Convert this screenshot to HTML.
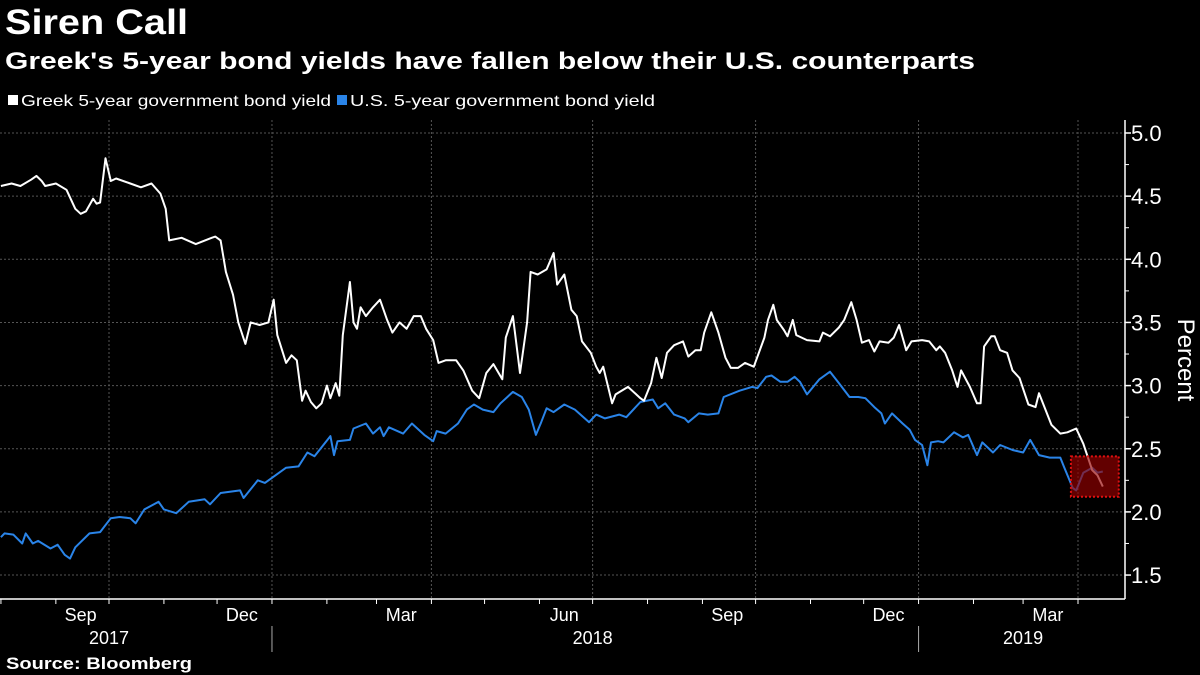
<!DOCTYPE html>
<html><head><meta charset="utf-8"><style>
html,body{margin:0;padding:0;background:#000;}
body{width:1200px;height:675px;overflow:hidden;position:relative;font-family:"Liberation Sans",sans-serif;color:#fff;}
</style></head><body>
<svg id="chart" width="1200" height="675" viewBox="0 0 1200 675" xmlns="http://www.w3.org/2000/svg" style="position:absolute;left:0;top:0">
<text x="5" y="34" font-size="35" font-weight="bold" fill="#fff" font-family="Liberation Sans, sans-serif" textLength="183" lengthAdjust="spacingAndGlyphs">Siren Call</text>
<text x="5" y="69" font-size="24" font-weight="bold" fill="#fff" font-family="Liberation Sans, sans-serif" textLength="970" lengthAdjust="spacingAndGlyphs">Greek's 5-year bond yields have fallen below their U.S. counterparts</text>
<g font-size="16" font-family="Liberation Sans, sans-serif" fill="#fff">
<g><rect x="8" y="95" width="10" height="10" fill="#fff"/><text x="21" y="106" textLength="310" lengthAdjust="spacingAndGlyphs">Greek 5-year government bond yield</text></g>
<g><rect x="337" y="95" width="10" height="10" fill="#2a84e8"/><text x="350" y="106" textLength="305" lengthAdjust="spacingAndGlyphs">U.S. 5-year government bond yield</text></g>
</g>
<g id="grid"></g>
<g id="series"></g>
<g id="axes"></g>
<text x="6" y="669" font-size="17" font-weight="bold" fill="#fff" font-family="Liberation Sans, sans-serif" textLength="186" lengthAdjust="spacingAndGlyphs">Source: Bloomberg</text>
</svg>
<script>
const greekDays=[0,6,11,17,20,23,25,31,37,42,45,48,52,54,56,59,62,65,73,79,85,90,93,95,102,110,119,121,124,127,131,134,138,141,146,151,154,156,161,164,167,170,172,175,178,181,184,186,189,191,193,197,199,201,203,206,210,214,218,221,225,229,233,237,240,244,247,251,257,261,266,270,274,278,283,285,289,293,297,299,303,308,312,314,318,322,325,328,333,336,338,340,345,347,354,361,363,367,370,373,376,380,385,388,392,395,397,401,405,409,412,416,420,425,431,433,436,438,442,444,447,449,455,462,464,468,473,476,480,483,486,490,493,496,501,504,507,511,514,520,524,528,530,533,537,540,542,547,551,553,555,559,561,564,568,571,575,580,584,586,593,598,602,607,611,616,619,622];
const greekVals=[4.58,4.60,4.58,4.63,4.66,4.62,4.58,4.60,4.55,4.40,4.36,4.38,4.48,4.44,4.45,4.80,4.62,4.64,4.60,4.57,4.60,4.52,4.40,4.15,4.17,4.12,4.17,4.18,4.15,3.90,3.72,3.50,3.33,3.50,3.48,3.50,3.68,3.40,3.18,3.24,3.20,2.88,2.96,2.87,2.82,2.86,3.00,2.90,3.02,2.92,3.40,3.82,3.50,3.45,3.62,3.55,3.62,3.68,3.52,3.42,3.50,3.45,3.55,3.55,3.45,3.36,3.18,3.20,3.20,3.12,2.96,2.90,3.10,3.17,3.05,3.38,3.55,3.10,3.50,3.90,3.88,3.92,4.05,3.80,3.88,3.60,3.55,3.35,3.26,3.15,3.10,3.15,2.86,2.93,2.99,2.90,2.88,3.02,3.22,3.06,3.26,3.32,3.35,3.23,3.28,3.28,3.42,3.58,3.42,3.22,3.14,3.14,3.18,3.15,3.38,3.52,3.64,3.52,3.44,3.39,3.52,3.40,3.36,3.35,3.42,3.39,3.46,3.52,3.66,3.52,3.34,3.36,3.27,3.35,3.34,3.38,3.48,3.28,3.35,3.36,3.35,3.28,3.31,3.26,3.12,2.99,3.12,2.99,2.86,2.86,3.31,3.39,3.39,3.28,3.26,3.12,3.06,2.85,2.83,2.94,2.69,2.62,2.63,2.66,2.54,2.33,2.29,2.20];
const usDays=[0,2,7,12,14,18,21,28,32,36,39,42,50,56,62,67,73,76,81,89,92,99,106,115,118,124,135,137,145,149,161,168,173,177,186,188,190,197,199,206,210,214,216,219,227,232,239,244,246,251,258,263,267,272,278,282,289,294,298,302,305,308,312,318,324,332,336,341,349,353,361,368,371,375,380,386,388,394,399,405,408,417,424,427,432,435,440,444,448,451,455,462,468,473,479,484,488,493,497,499,503,509,513,516,520,523,525,529,532,538,543,546,551,554,560,564,571,577,581,586,592,598,600,605,607,611,616,619,622];
const usVals=[1.80,1.83,1.82,1.75,1.83,1.75,1.77,1.71,1.74,1.66,1.63,1.72,1.83,1.84,1.95,1.96,1.95,1.91,2.02,2.08,2.02,1.99,2.08,2.10,2.06,2.15,2.17,2.11,2.25,2.23,2.35,2.36,2.47,2.44,2.60,2.45,2.56,2.57,2.66,2.70,2.62,2.67,2.60,2.67,2.62,2.70,2.61,2.56,2.64,2.62,2.70,2.81,2.85,2.81,2.79,2.86,2.95,2.91,2.81,2.61,2.71,2.82,2.79,2.85,2.81,2.71,2.77,2.74,2.77,2.75,2.87,2.89,2.82,2.86,2.77,2.74,2.71,2.78,2.77,2.78,2.91,2.96,2.99,2.98,3.07,3.08,3.03,3.03,3.07,3.03,2.93,3.05,3.11,3.02,2.91,2.91,2.90,2.83,2.78,2.70,2.78,2.70,2.65,2.57,2.53,2.37,2.55,2.56,2.55,2.63,2.59,2.61,2.45,2.55,2.47,2.53,2.49,2.47,2.57,2.45,2.43,2.43,2.36,2.19,2.17,2.31,2.35,2.31,2.32];
const yTicks=[1.5,2.0,2.5,3.0,3.5,4.0,4.5,5.0];
const yTickLabels=["1.5","2.0","2.5","3.0","3.5","4.0","4.5","5.0"];
const monthLabels=["Sep","Dec","Mar","Jun","Sep","Dec","Mar"];
const monthLabelDays=[45,136,226,318,410,501,591];
const quarterDays=[61,153,243,334,426,518,608];
const monthTickDays=[0,31,61,92,122,153,184,212,243,273,304,334,365,396,426,457,487,518,549,577,608];
const yearLabels=["2017","2018","2019"];
const yearLabelDays=[61,334,577];
const yearSepDays=[153,518];
const highlightDays=[604,631];
const highlightVals=[2.12,2.44];

const NS="http://www.w3.org/2000/svg";
const L=0,R=1125,T=120,B=599;
function xs(d){return 109+(d-61)*969/547;}
function ys(v){return 133+(5.0-v)*126.3;}
function mk(tag,attrs,parent){const e=document.createElementNS(NS,tag);for(const k in attrs)e.setAttribute(k,attrs[k]);parent.appendChild(e);return e;}
const grid=document.getElementById('grid'),series=document.getElementById('series'),axes=document.getElementById('axes');
yTicks.forEach((v,i)=>{
  const g=mk('line',{x1:L,x2:R,y1:ys(v),y2:ys(v),stroke:'#555','stroke-width':1,'stroke-dasharray':'2,2'},grid);
  
  
  const t=mk('line',{x1:R,x2:R+6,y1:ys(v),y2:ys(v),stroke:'#fff','stroke-width':1.5},axes);
  
  
  const lb=mk('text',{x:R+6,y:ys(v)+8,'font-size':22,fill:'#fff','font-family':'Liberation Sans, sans-serif'},axes);
  lb.textContent=yTickLabels[i];
  
  
  if(i<yTicks.length-1){const m=mk('line',{x1:R,x2:R+4,y1:ys(v+0.25),y2:ys(v+0.25),stroke:'#fff','stroke-width':1},axes);
  
  }
});
quarterDays.forEach(d=>{
  const g=mk('line',{x1:xs(d),x2:xs(d),y1:T,y2:B,stroke:'#555','stroke-width':1,'stroke-dasharray':'2,2'},grid);
  
  
});
function path(days,vals,color,name){
  let d='';days.forEach((dd,i)=>{d+=(i?'L':'M')+xs(dd).toFixed(1)+','+ys(vals[i]).toFixed(1);});
  const p=mk('path',{d:d,fill:'none',stroke:color,'stroke-width':2,'stroke-linejoin':'round'},series);
  
  
}
path(usDays,usVals,'#2a84e8','us-yield-line');
path(greekDays,greekVals,'#ffffff','greek-yield-line');
const hb=mk('rect',{x:xs(highlightDays[0]),y:ys(highlightVals[1]),width:xs(highlightDays[1])-xs(highlightDays[0]),height:ys(highlightVals[0])-ys(highlightVals[1]),fill:'rgba(150,0,0,0.65)',stroke:'#e01010','stroke-width':2,'stroke-dasharray':'2,2'},series);


const ax=mk('line',{x1:L,x2:R,y1:B,y2:B,stroke:'#fff','stroke-width':1.5},axes);


const ay=mk('line',{x1:R,x2:R,y1:T,y2:B,stroke:'#fff','stroke-width':1.5},axes);


monthTickDays.forEach(d=>{
  const t=mk('line',{x1:xs(d),x2:xs(d),y1:B,y2:B+5,stroke:'#fff','stroke-width':1},axes);
  
  
});
monthLabels.forEach((m,i)=>{
  const t=mk('text',{x:xs(monthLabelDays[i]),y:621,'font-size':18,fill:'#fff','text-anchor':'middle','font-family':'Liberation Sans, sans-serif'},axes);
  t.textContent=m;
  
  
});
yearLabels.forEach((m,i)=>{
  const t=mk('text',{x:xs(yearLabelDays[i]),y:644,'font-size':18,fill:'#fff','text-anchor':'middle','font-family':'Liberation Sans, sans-serif'},axes);
  t.textContent=m;
  
  
});
yearSepDays.forEach(d=>{
  const t=mk('line',{x1:xs(d),x2:xs(d),y1:626,y2:652,stroke:'#aaa','stroke-width':1},axes);
  
  
});
const pt=mk('text',{x:1178,y:360,'font-size':24,fill:'#fff','text-anchor':'middle','font-family':'Liberation Sans, sans-serif',transform:'rotate(90 1178 360)'},axes);
pt.textContent='Percent';


</script>
</body></html>
